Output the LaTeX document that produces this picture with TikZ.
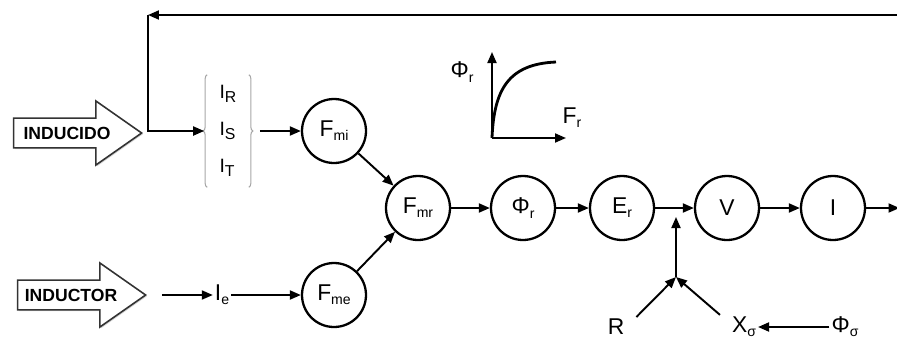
\documentclass[tikz,border=0pt]{standalone}
\usepackage{fontspec}
\setmainfont{Liberation Sans}
\usetikzlibrary{arrows.meta,positioning,shapes.arrows,shadows,decorations.pathreplacing}
\newcommand{\sbs}[2][8]{\raisebox{-0.35ex}{\fontsize{#1}{#1}\selectfont #2}}

\begin{document}
\begin{tikzpicture}[x=0.02cm,y=-0.02cm,
  flow/.style={line width=1.1pt,-{Triangle[length=2.2mm,width=1.8mm]}},
  line/.style={line width=1.1pt},
  var/.style={circle,draw,line width=1.3pt,minimum size=1.28cm,inner sep=0pt,font=\fontsize{13}{15}\selectfont},
  lbl/.style={font=\fontsize{13}{15}\selectfont,inner sep=1pt},
  bigarrow/.style={single arrow,draw=black!80,line width=0.9pt,fill=white,
    drop shadow={shadow xshift=0.7pt,shadow yshift=-0.7pt,opacity=0.35},
    single arrow head extend=0.3cm,single arrow tip angle=70,
    minimum height=2.56cm,minimum width=1.28cm,inner sep=0.12cm,
    font=\bfseries\fontsize{10}{12}\selectfont},
  gbrace/.style={draw=black!35,line width=0.6pt,decorate,decoration={brace,amplitude=0.08cm}}]
  \useasboundingbox (0,0) rectangle (897,339);

  \node[bigarrow,anchor=tip] (inducido) at (143,133) {INDUCIDO};
  \node[bigarrow,anchor=tip] (inductor) at (147,295) {INDUCTOR};

  \node[align=left,inner sep=0pt,minimum width=0.82cm,minimum height=2.24cm,
    font=\fontsize{11}{21}\selectfont] (ph) at (228,131) {I\sbs[9]{R}\\I\sbs[9]{S}\\I\sbs[9]{T}};
  \draw[gbrace] (ph.south west) -- (ph.north west);
  \draw[gbrace] (ph.north east) -- (ph.south east);

  \node[lbl] (ie) at (222,295) {I\sbs{e}};
  \node[var] (fmi) at (334,131) {F\sbs{mi}};
  \node[var] (fme) at (334,295) {F\sbs{me}};
  \foreach \n/\t/\x in {fmr/F\sbs{mr}/418,phir/Φ\sbs{r}/523,er/E\sbs{r}/622,vv/V/727,ii/I/833}
    \node[var] (\n) at (\x,208) {\t};

  \foreach \a/\b in {fmi/fmr,fme/fmr,fmr/phir,phir/er,er/vv,vv/ii,ie/fme}
    \draw[flow] (\a) -- (\b);
  \draw[flow,shorten <=0.3cm] (inductor.tip) -- (ie);
  \draw[flow,shorten <=0.22cm] (ph.east) -- (fmi);

  \coordinate (outR) at (899.5,208);
  \coordinate (topR) at (899.5,15);
  \coordinate (topL) at (148,15);
  \draw[flow] (ii) -- (outR);
  \draw[line] (outR) -- (topR);
  \draw[flow] (topR) -- (topL);
  \draw[flow,shorten >=0.06cm] (topL) |- (ph.west);

  \coordinate (sum) at (676,277);
  \coordinate (tap) at (676,217);
  \node[lbl] (r) at (616,327) {R};
  \node[lbl] (xs) at (744,327) {X\sbs{σ}};
  \node[lbl] (phis) at (845,327) {Φ\sbs{σ}};
  \draw[flow] (sum) -- (tap);
  \draw[flow] ([xshift=0.2cm]r.north east) -- (sum);
  \draw[flow] ([xshift=-0.2cm]xs.north west) -- (sum);
  \draw[flow] (phis) -- (xs);

  \coordinate (o) at (492,138);
  \coordinate (ytip) at (492,52);
  \coordinate (xtip) at (566,138);
  \draw[flow] (o) -- (ytip);
  \draw[flow] (o) -- (xtip);
  \draw[line width=1.6pt] (o) .. controls (494,90) and (508,64) .. (556,62);
  \node[lbl] (ylab) at (462,72) {Φ\sbs{r}};
  \node[lbl] (xlab) at (572,118) {F\sbs{r}};
\end{tikzpicture}
\end{document}
